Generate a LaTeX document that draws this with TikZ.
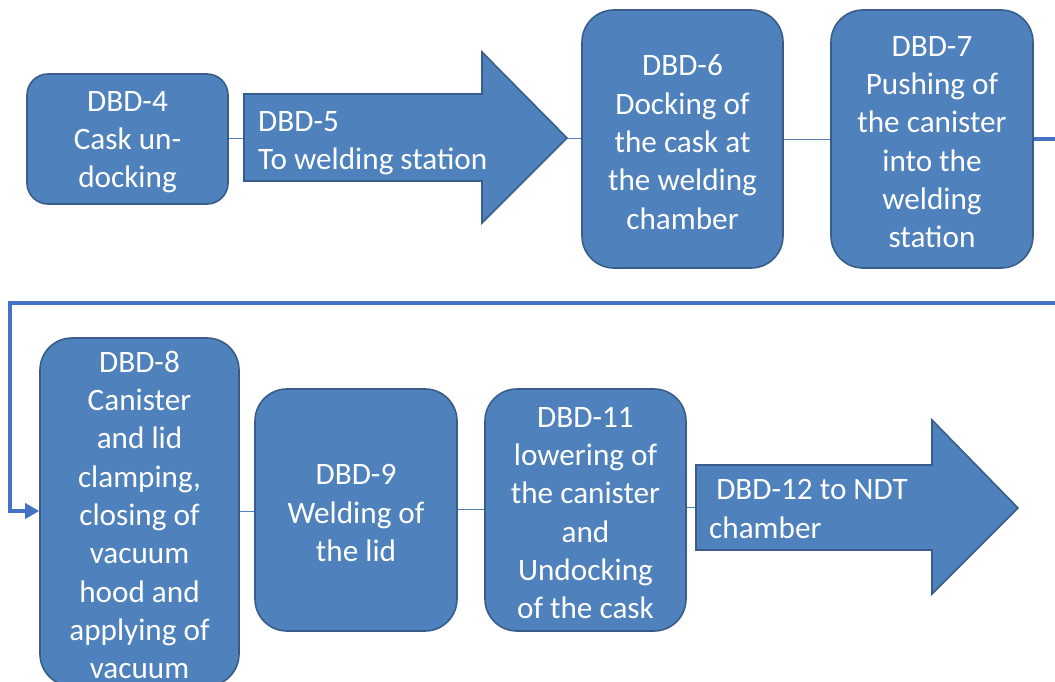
\documentclass[tikz,border=0pt]{standalone}
\usepackage{fontspec}
\setmainfont{Carlito}
\usetikzlibrary{arrows.meta}
\definecolor{boxfill}{HTML}{4F81BD}
\definecolor{boxedge}{HTML}{385D8A}
\definecolor{linkblue}{HTML}{4472C4}
\tikzset{
  stepbox/.style={draw=boxedge, fill=boxfill, line width=1.6pt, inner sep=0pt},
  boxlabel/.style={text=white, align=center, inner sep=0pt, yshift=-3pt,
    font=\fontsize{31.2}{38.3}\selectfont},
  arrowbody/.style={draw=boxedge, fill=boxfill, line width=1.6pt, line join=miter},
  arrowtext/.style={text=white, align=left, inner sep=0pt, anchor=west,
    font=\fontsize{31.2}{38.3}\selectfont},
  thinlink/.style={draw=boxfill, line width=0.8pt},
  looplink/.style={draw=linkblue, line width=3.6pt,
    -{Triangle[length=14pt,width=15pt]}}
}
\begin{document}
\begin{tikzpicture}[x=1pt,y=-1pt]
\useasboundingbox (0,0) rectangle (1055,682);
\clip (0,0) rectangle (1055,682);

% coordinates of the two block arrows
\coordinate (a5in) at (244,138);
\coordinate (a5tip) at (567,138);
\coordinate (a12in) at (696,507);

% thin links behind the shapes
\path[thinlink] (127,138) -- (a5in);
\path[thinlink] (a5tip) -- (700,138);
\path[thinlink] (700,139) -- (930,139);
\path[thinlink] (140,511) -- (356,511);
\path[thinlink] (356,509) -- (585,509);
\path[thinlink] (585,507) -- (a12in);

% process boxes
\node[stepbox, rounded corners=21, minimum width=201, minimum height=130,
  label={[boxlabel]center:{DBD-4\\Cask un-\\docking}}] (d4) at (127.5,139) {};
\node[stepbox, rounded corners=32, minimum width=201, minimum height=258,
  label={[boxlabel]center:{DBD-6\\Docking of\\the cask at\\the welding\\chamber}}] (d6) at (682.5,139) {};
\node[stepbox, rounded corners=32, minimum width=202, minimum height=258,
  label={[boxlabel]center:{DBD-7\\Pushing of\\the canister\\into the\\welding\\station}}] (d7) at (932,139) {};
\node[stepbox, rounded corners=32, minimum width=199, minimum height=348,
  label={[boxlabel]center:{DBD-8\\Canister\\and lid\\clamping,\\closing of\\vacuum\\hood and\\applying of\\vacuum}}] (d8) at (139.5,512) {};
\node[stepbox, rounded corners=32, minimum width=202, minimum height=242,
  label={[boxlabel]center:{DBD-9\\Welding of\\the lid}}] (d9) at (356,510) {};
\node[stepbox, rounded corners=32, minimum width=201, minimum height=242,
  label={[boxlabel]center:{DBD-11\\lowering of\\the canister\\and\\Undocking\\of the cask}}] (d11) at (585.5,510) {};

% block arrows
\path[arrowbody] (a5in) -- (244,94) -- (482,94) -- (482,52) -- (a5tip)
  -- (482,223) -- (482,181) -- (244,181) -- cycle;
\node[arrowtext] (d5) at (258,143) {DBD-5\\To welding station};

\path[arrowbody] (a12in) -- (696,465) -- (932,465) -- (932,420) -- (1018,508)
  -- (932,594) -- (932,550) -- (696,550) -- cycle;
\node[arrowtext] (d12) at (709,509) {\ DBD-12 to NDT\\chamber};

% return link from DBD-7 down to DBD-8
\draw[looplink] (d7.east) -- (1080,139) -- (1080,303) -- (10,303) -- (10,511) -- (d8.west |- 0,511);
\end{tikzpicture}
\end{document}
